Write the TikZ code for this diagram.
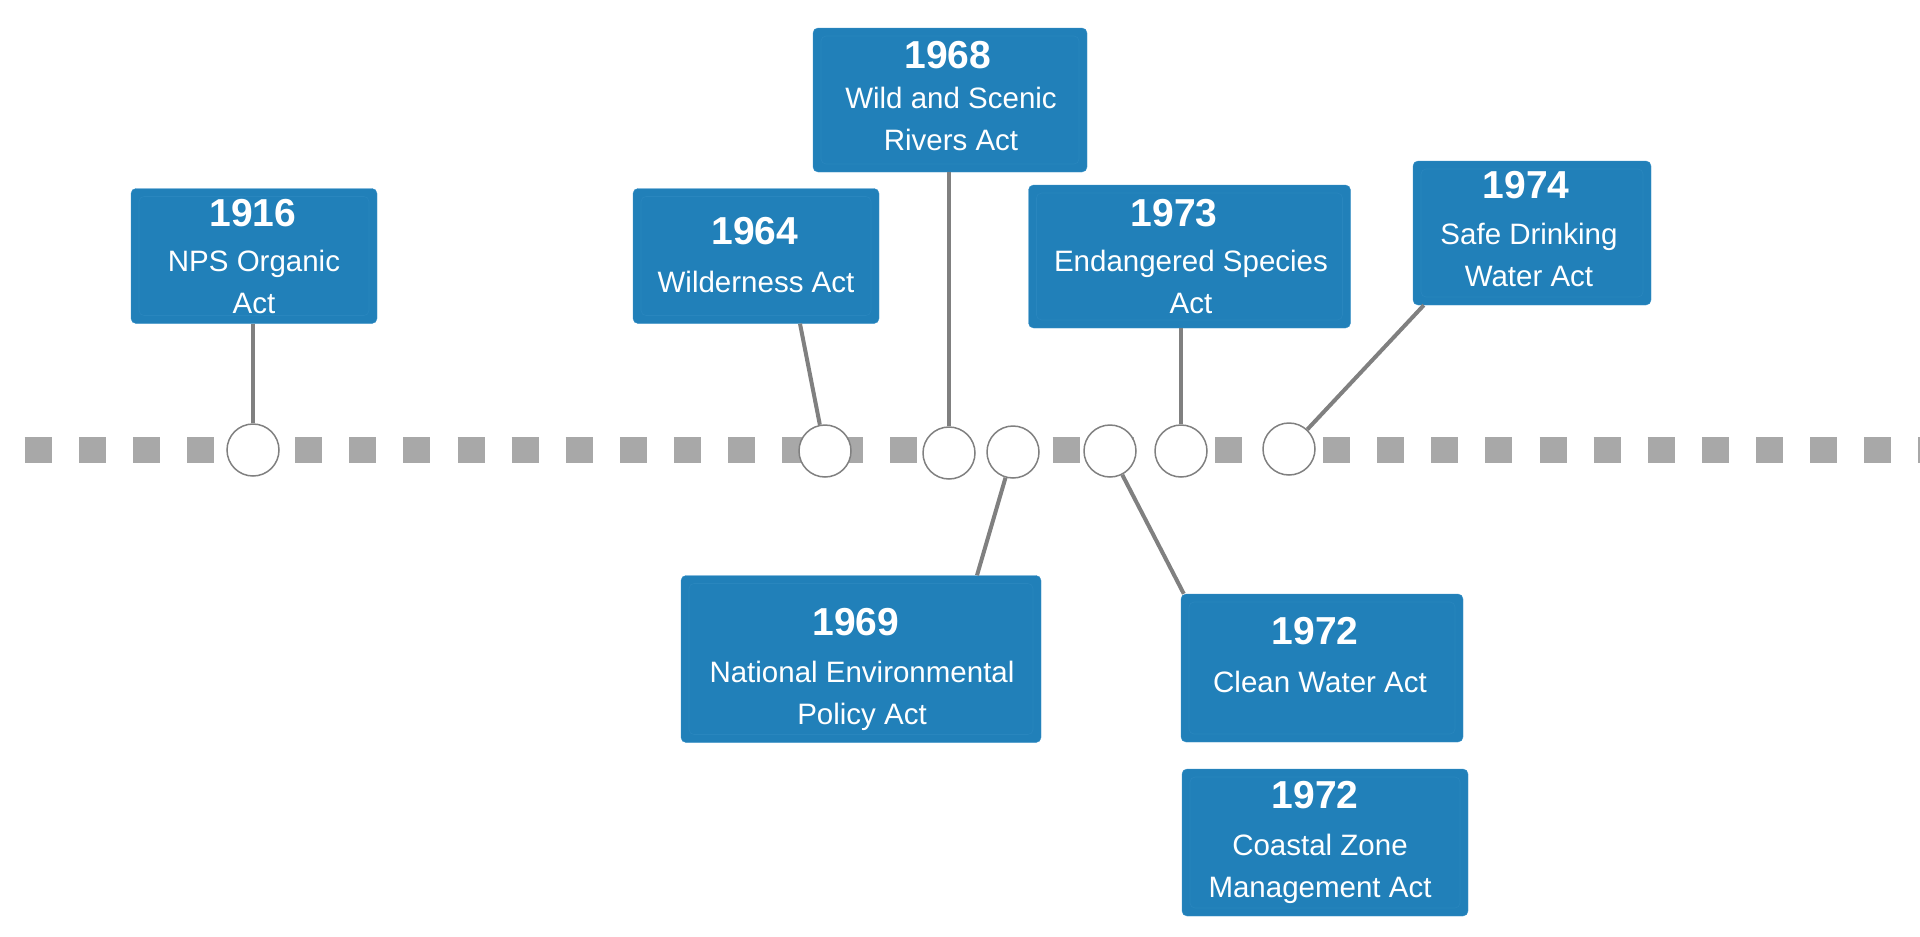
\documentclass[tikz,border=0pt]{standalone}
\usepackage{fontspec}
\setmainfont{Liberation Sans}
\definecolor{actblue}{HTML}{2180B9}
\definecolor{actedge}{HTML}{3A92C9}
\definecolor{actinner}{HTML}{2986BE}
\begin{document}
\begin{tikzpicture}[x=1pt,y=-1pt]
\tikzstyle{timeline} = [draw=black!34, line width=26pt, dash pattern=on 27.05pt off 27.05pt];
\tikzstyle{dot} = [draw=black!50, circle, fill=white, line width=1.5pt, minimum size=52pt, inner sep=0pt];
\tikzstyle{event} = [draw=actedge, fill=actblue, rounded corners=5pt, inner sep=0pt,
  path picture={\draw[actinner, line width=0.6pt] ([xshift=8pt,yshift=-8pt]path picture bounding box.north west) rectangle ([xshift=-8pt,yshift=8pt]path picture bounding box.south east);}];
\tikzstyle{year} = [text=white, inner sep=0pt, font=\fontsize{39}{44}\selectfont\bfseries];
\tikzstyle{actname} = [text=white, inner sep=0pt, anchor=north, align=center, font=\fontsize{29.5}{41.5}\selectfont];
\tikzstyle{link} = [draw=black!50, line width=4pt];
\useasboundingbox (0,0) rectangle (1920,937);
\coordinate (tlstart) at (24.7,450);
\coordinate (tlend) at (1920,450);
\draw[timeline] (tlstart) -- (tlend);
\node[dot] (c1916) at (253,450) {};
\node[dot] (c1964) at (825,451) {};
\node[dot] (c1968) at (949,453) {};
\node[dot] (c1969) at (1013,452) {};
\node[dot] (c1972) at (1110,451) {};
\node[dot] (c1973) at (1181,451) {};
\node[dot] (c1974) at (1289,449) {};
\node[event, minimum width=246pt, minimum height=135pt] (b1916) at (254,256) {};
\node[year] (y1916) at (253,213) {1916};
\node[actname] (t1916) at (254,250) {NPS Organic\\Act};
\node[event, minimum width=246pt, minimum height=135pt] (b1964) at (756,256) {};
\node[year] (y1964) at (755,231) {1964};
\node[actname] (t1964) at (756,271) {Wilderness Act};
\node[event, minimum width=274pt, minimum height=144pt] (b1968) at (950,100) {};
\node[year] (y1968) at (948,55) {1968};
\node[actname] (t1968) at (951,87) {Wild and Scenic\\Rivers Act};
\node[event, minimum width=322pt, minimum height=143pt] (b1973) at (1189.5,256.5) {};
\node[year] (y1973) at (1174,213) {1973};
\node[actname] (t1973) at (1191,250) {Endangered Species\\Act};
\node[event, minimum width=238pt, minimum height=144pt] (b1974) at (1532,233) {};
\node[year] (y1974) at (1526,185) {1974};
\node[actname] (t1974) at (1529,223) {Safe Drinking\\Water Act};
\node[event, minimum width=360pt, minimum height=167pt] (b1969) at (861,659) {};
\node[year] (y1969) at (856,622) {1969};
\node[actname] (t1969) at (862,661) {National Environmental\\Policy Act};
\node[event, minimum width=282pt, minimum height=148pt] (b1972) at (1322,668) {};
\node[year] (y1972) at (1315,631) {1972};
\node[actname] (t1972) at (1320,671) {Clean Water Act};
\node[event, minimum width=286pt, minimum height=147pt] (b1972cz) at (1325,842.5) {};
\node[year] (y1972cz) at (1315,795) {1972};
\node[actname] (t1972cz) at (1320,834) {Coastal Zone\\Management Act};
\draw[link] (c1916 |- b1916.south) -- (c1916);
\draw[link] ([xshift=44pt]b1964.south) -- (c1964);
\draw[link] (c1968 |- b1968.south) -- (c1968);
\draw[link] (c1969) -- ([xshift=116pt]b1969.north);
\draw[link] (c1972) -- ([xshift=3pt]b1972.north west);
\draw[link] (c1973 |- b1973.south) -- (c1973);
\draw[link] ([xshift=11pt]b1974.south west) -- (c1974);
\end{tikzpicture}
\end{document}
